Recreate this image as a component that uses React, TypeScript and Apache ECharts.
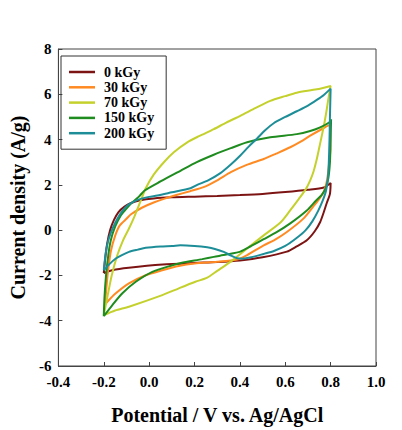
import React, { useEffect, useRef } from "react";
import * as echarts from "echarts";

const seriesNames = ["0 kGy", "30 kGy", "70 kGy", "150 kGy", "200 kGy"];
const seriesColors = ["#7d1414", "#ff8a22", "#c4d12c", "#1f8c1f", "#1d8e98"];

const xTicks = [-0.4, -0.2, 0.0, 0.2, 0.4, 0.6, 0.8, 1.0];
const yTicks = [-6, -4, -2, 0, 2, 4, 6, 8];

const cv0kGy: number[][] = [
  [-0.2, -1.9], [-0.193, -1.2], [-0.185, -0.6], [-0.172, 0.0], [-0.155, 0.45], [-0.135, 0.8],
  [-0.11, 1.03], [-0.08, 1.2], [-0.04, 1.32], [0.02, 1.4], [0.1, 1.45], [0.2, 1.48], [0.3, 1.51],
  [0.4, 1.55], [0.5, 1.6], [0.6, 1.68], [0.7, 1.78], [0.77, 1.88], [0.8, 2.08],
  [0.797, 1.6], [0.783, 1.2], [0.77, 0.8], [0.754, 0.36], [0.73, -0.05], [0.695, -0.45],
  [0.65, -0.72], [0.607, -0.95], [0.5, -1.2], [0.4, -1.34], [0.3, -1.41], [0.2, -1.45],
  [0.06, -1.52], [-0.09, -1.66], [-0.16, -1.76], [-0.2, -1.9],
];

const cv30kGy: number[][] = [
  [-0.195, -3.3], [-0.188, -2.5], [-0.18, -1.7], [-0.168, -0.9], [-0.15, -0.25], [-0.13, 0.2],
  [-0.1, 0.5], [-0.08, 0.7], [-0.03, 1.0], [0.02, 1.22], [0.065, 1.38], [0.12, 1.55], [0.18, 1.72],
  [0.24, 1.9], [0.3, 2.2], [0.36, 2.56], [0.43, 2.88], [0.505, 3.14], [0.56, 3.38], [0.622, 3.66],
  [0.67, 3.92], [0.71, 4.17], [0.768, 4.5], [0.797, 4.65],
  [0.799, 3.6], [0.792, 2.8], [0.783, 2.15], [0.77, 1.7], [0.75, 1.38], [0.724, 1.05],
  [0.68, 0.51], [0.607, -0.08], [0.55, -0.45], [0.505, -0.67], [0.432, -1.1], [0.388, -1.3],
  [0.3, -1.4], [0.2, -1.47], [0.13, -1.58], [0.058, -1.77], [-0.015, -1.99], [-0.089, -2.35],
  [-0.147, -2.79], [-0.184, -3.16], [-0.195, -3.3],
];

const cv70kGy: number[][] = [
  [-0.2, -3.75], [-0.185, -3.0], [-0.165, -2.0], [-0.14, -1.1], [-0.115, -0.45], [-0.09, 0.05],
  [-0.065, 0.6], [-0.037, 1.3], [-0.015, 1.85], [0.02, 2.45], [0.065, 3.0], [0.11, 3.45],
  [0.168, 3.88], [0.22, 4.15], [0.285, 4.46], [0.34, 4.75], [0.402, 5.05], [0.47, 5.4],
  [0.534, 5.71], [0.6, 5.92], [0.651, 6.07], [0.739, 6.22], [0.8, 6.37],
  [0.79, 5.8], [0.783, 5.34], [0.772, 4.7], [0.761, 4.17], [0.75, 3.65], [0.739, 3.14],
  [0.725, 2.6], [0.71, 2.2], [0.69, 1.8], [0.66, 1.38], [0.62, 0.85], [0.58, 0.35],
  [0.505, -0.23], [0.432, -0.81], [0.358, -1.4], [0.3, -1.8], [0.256, -2.1], [0.204, -2.28],
  [0.131, -2.57], [0.058, -2.87], [-0.089, -3.38], [-0.15, -3.55], [-0.2, -3.75],
];

const cv150kGy: number[][] = [
  [-0.2, -3.8], [-0.197, -3.0], [-0.19, -2.0], [-0.18, -1.1], [-0.169, -0.45], [-0.15, 0.15],
  [-0.125, 0.65], [-0.1, 0.95], [-0.081, 1.16], [-0.045, 1.48], [-0.02, 1.75], [0.05, 2.15],
  [0.138, 2.62], [0.21, 3.0], [0.285, 3.33], [0.36, 3.62], [0.432, 3.88], [0.534, 4.1],
  [0.651, 4.24], [0.71, 4.38], [0.754, 4.54], [0.8, 4.8], [0.802, 4.9],
  [0.8, 4.0], [0.797, 3.0], [0.79, 2.3], [0.778, 1.85], [0.76, 1.55], [0.735, 1.3],
  [0.695, 0.87], [0.622, 0.3], [0.56, -0.1], [0.505, -0.4], [0.45, -0.7], [0.402, -0.95],
  [0.34, -1.08], [0.285, -1.18], [0.234, -1.28], [0.14, -1.45], [0.102, -1.55], [0.014, -1.84],
  [-0.059, -2.28], [-0.118, -2.79], [-0.162, -3.31], [-0.2, -3.8],
];

const cv200kGy: number[][] = [
  [-0.2, -1.78], [-0.195, -1.3], [-0.188, -0.8], [-0.177, -0.35], [-0.16, 0.1], [-0.14, 0.5],
  [-0.12, 0.82], [-0.096, 1.09], [-0.065, 1.27], [-0.037, 1.38], [0.0, 1.47], [0.036, 1.53],
  [0.1, 1.67], [0.182, 1.85], [0.212, 2.0], [0.26, 2.2], [0.314, 2.52], [0.36, 2.9], [0.402, 3.3],
  [0.44, 3.7], [0.476, 4.05], [0.51, 4.4], [0.549, 4.72], [0.6, 5.0], [0.651, 5.25], [0.7, 5.5],
  [0.739, 5.75], [0.77, 5.97], [0.8, 6.25],
  [0.797, 5.0], [0.795, 4.0], [0.792, 3.0], [0.788, 2.3], [0.78, 1.75], [0.765, 1.3],
  [0.745, 0.85], [0.72, 0.4], [0.69, 0.0], [0.65, -0.35], [0.6, -0.7], [0.55, -0.92],
  [0.505, -1.05], [0.45, -1.2], [0.41, -1.26], [0.388, -1.24], [0.36, -1.12], [0.329, -0.96],
  [0.29, -0.83], [0.256, -0.76], [0.2, -0.7], [0.138, -0.67], [0.102, -0.7], [0.05, -0.72],
  [-0.015, -0.78], [-0.05, -0.86], [-0.089, -0.96], [-0.12, -1.1], [-0.147, -1.25],
  [-0.175, -1.5], [-0.2, -1.78],
];

const allCurves = [cv0kGy, cv30kGy, cv70kGy, cv150kGy, cv200kGy];

const FONT = "'Liberation Serif', 'Times New Roman', serif";

export default function App() {
  const ref = useRef<HTMLDivElement>(null);
  useEffect(() => {
    document.body.style.margin = "0";
    if (!ref.current) return;
    const chart = echarts.init(ref.current, undefined, { renderer: "svg" });
    chart.setOption({
      animation: false,
      backgroundColor: "#fff",
      grid: {
        left: 57,
        top: 49,
        width: 319,
        height: 319,
        show: true,
        borderColor: "#444",
        borderWidth: 1,
      },
      legend: {
        data: seriesNames,
        orient: "vertical",
        left: 61,
        top: 56,
        padding: [9, 12, 9, 8],
        itemGap: 1.3,
        itemWidth: 26,
        itemHeight: 2.5,
        icon: "rect",
        borderColor: "#333",
        borderWidth: 1,
        textStyle: {
          fontFamily: FONT,
          fontWeight: "bold",
          fontSize: 14,
          lineHeight: 14,
          color: "#000",
          padding: [0, 0, 0, 4],
        },
      },
      xAxis: {
        type: "value",
        min: xTicks[0],
        max: xTicks[xTicks.length - 1],
        interval: 0.2,
        name: "Potential / V vs. Ag/AgCl",
        nameLocation: "middle",
        nameGap: 39,
        nameTextStyle: { fontFamily: FONT, fontWeight: "bold", fontSize: 20, color: "#000" },
        axisLine: { onZero: false, lineStyle: { color: "#444", width: 1 } },
        axisTick: { inside: true, length: 4, lineStyle: { color: "#444" } },
        splitLine: { show: false },
        axisLabel: {
          margin: 8,
          fontFamily: FONT,
          fontWeight: "bold",
          fontSize: 15,
          color: "#000",
          formatter: (v: number) => v.toFixed(1),
        },
      },
      yAxis: {
        type: "value",
        min: yTicks[0],
        max: yTicks[yTicks.length - 1],
        interval: 2,
        name: "Current density (A/g)",
        nameLocation: "middle",
        nameGap: 29,
        nameTextStyle: { fontFamily: FONT, fontWeight: "bold", fontSize: 20, color: "#000" },
        axisLine: { onZero: false, lineStyle: { color: "#444", width: 1 } },
        axisTick: { inside: true, length: 4, lineStyle: { color: "#444" } },
        splitLine: { show: false },
        axisLabel: {
          margin: 7,
          fontFamily: FONT,
          fontWeight: "bold",
          fontSize: 15,
          color: "#000",
          formatter: (v: number) => String(v),
        },
      },
      series: allCurves.map((d, i) => ({
        name: seriesNames[i],
        type: "line",
        data: d,
        showSymbol: false,
        smooth: 0.25,
        color: seriesColors[i],
        lineStyle: { width: 2, color: seriesColors[i] },
      })),
    });
    return () => chart.dispose();
  }, []);
  return <div ref={ref} style={{ width: 402, height: 430 }} />;
}
